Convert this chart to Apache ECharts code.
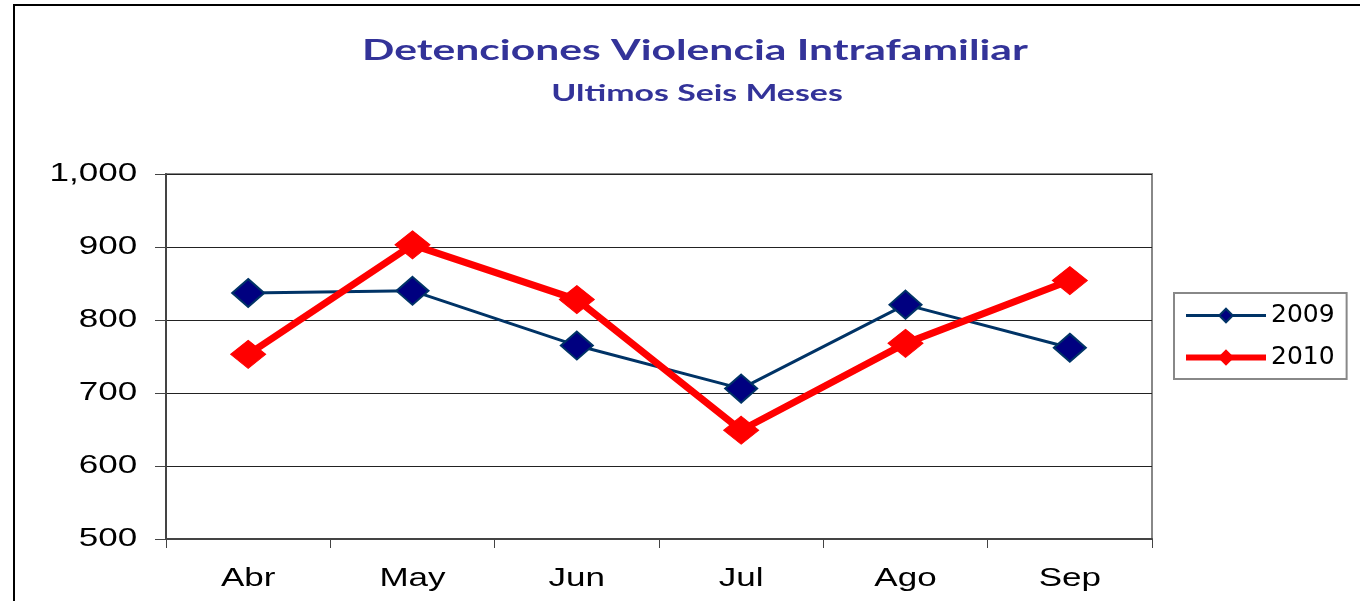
<!DOCTYPE html>
<html>
<head>
<meta charset="utf-8">
<script src="https://cdn.jsdelivr.net/npm/echarts@6/dist/echarts.min.js"></script>
<style>
html,body{margin:0;padding:0;background:#fff;}
#chart{width:1360px;height:601px;}
</style>
</head>
<body>
<div id="chart"></div>
<script>
const categories = ['Abr', 'May', 'Jun', 'Jul', 'Ago', 'Sep'];
const values2009 = [837, 840, 765, 706, 821, 762];
const values2010 = [753, 903, 828, 649, 768, 854];
const seriesNames = ['2009', '2010'];
const yTicks = [500, 600, 700, 800, 900, 1000];
const yTickLabels = ['500', '600', '700', '800', '900', '1,000'];
const titleText = 'Detenciones Violencia Intrafamiliar';
const subtitleText = 'Ultimos Seis Meses';

const chart = echarts.init(document.getElementById('chart'), null, {renderer: 'canvas'});
const axisFont = '"Liberation Sans", Arial, sans-serif';
const labelFont = '25px ' + axisFont;
const stretch = 1.40;

chart.setOption({
  animation: false,
  backgroundColor: '#fff',
  legend: {
    orient: 'vertical', left: 1174, top: 293,
    padding: [10, 12, 9, 9],
    itemGap: 17,
    itemWidth: 80, itemHeight: 17,
    borderColor: '#888', borderWidth: 2,
    textStyle: {fontFamily: '"DejaVu Sans", sans-serif', fontSize: 25, color: '#000'},
    data: [
      {name: seriesNames[0], lineStyle: {width: 3}},
      {name: seriesNames[1], lineStyle: {width: 6}}
    ]
  },
  grid: {left: 166, right: 208, top: 174, bottom: 62, show: true, borderColor: '#888', borderWidth: 2},
  xAxis: {
    type: 'category', data: categories, boundaryGap: true,
    axisLine: {lineStyle: {color: '#444', width: 2}},
    axisTick: {show: true, length: 9, alignWithLabel: false, lineStyle: {color: '#444'}},
    axisLabel: {show: false}
  },
  yAxis: {
    type: 'value', min: yTicks[0], max: yTicks[yTicks.length - 1], interval: 100,
    axisLine: {show: true, lineStyle: {color: '#444', width: 2}},
    axisTick: {show: true, length: 11, lineStyle: {color: '#444'}},
    splitLine: {lineStyle: {color: '#222', width: 1}},
    axisLabel: {show: false}
  },
  series: [
    {name: seriesNames[0], type: 'line', data: values2009,
     symbol: 'diamond', symbolSize: [32, 28],
     lineStyle: {color: '#003366', width: 3},
     itemStyle: {color: '#000080', borderColor: '#003366', borderWidth: 2}},
    {name: seriesNames[1], type: 'line', data: values2010,
     symbol: 'diamond', symbolSize: [35, 28],
     lineStyle: {color: '#ff0000', width: 7},
     itemStyle: {color: '#ff0000', borderColor: '#ff0000', borderWidth: 1}}
  ]
});

function stretchedText(id, text, x, y, font, color, sx) {
  return {
    id: id, type: 'text', x: x, y: y, scaleX: sx, silent: true,
    style: {text: text, font: font, fill: color,
            align: 'center', verticalAlign: 'middle',
            textAlign: 'center', textVerticalAlign: 'middle'}
  };
}

const measureCtx = document.createElement('canvas').getContext('2d');
function textWidth(text, font) {
  measureCtx.font = font;
  return measureCtx.measureText(text).width;
}

const graphics = [
  {id: 'frame', type: 'rect', shape: {x: 14, y: 5, width: 1400, height: 700},
   style: {fill: 'none', stroke: '#000', lineWidth: 2}, silent: true},
  stretchedText('title', titleText, 695, 51, 'bold 29px Lato, sans-serif', '#333399', 1.47),
  stretchedText('subtitle', subtitleText, 697, 93, 'bold 23.5px Lato, sans-serif', '#333399', 1.44)
];

const origin = chart.convertToPixel({gridIndex: 0}, [0, yTicks[0]]);
const xLabelY = origin[1] + 40;
categories.forEach(function (c, i) {
  const px = chart.convertToPixel({xAxisIndex: 0}, c);
  graphics.push(stretchedText('xl' + i, c, px, xLabelY, labelFont, '#000', stretch));
});
const yLabelRight = chart.convertToPixel({xAxisIndex: 0}, categories[0]) - 82 - 29;
yTicks.forEach(function (v, i) {
  const py = chart.convertToPixel({yAxisIndex: 0}, v);
  const w = textWidth(yTickLabels[i], labelFont) * stretch;
  graphics.push(stretchedText('yl' + i, yTickLabels[i], yLabelRight - w / 2, py, labelFont, '#000', stretch));
});

chart.setOption({graphic: graphics});
</script>
</body>
</html>
